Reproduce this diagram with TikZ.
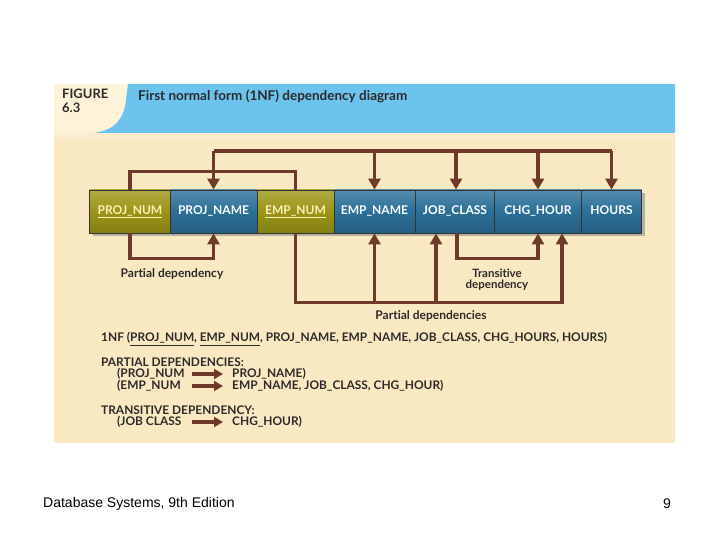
\documentclass[tikz,border=0pt]{standalone}
\usepackage{fontspec}
\setmainfont{Lato}[Ligatures=NoCommon]
\newfontfamily\footfont{Liberation Sans}
\usetikzlibrary{calc}
\usetikzlibrary{arrows.meta}
\usetikzlibrary{shadows}
\definecolor{panel}{HTML}{F9E9C3}
\definecolor{headblue}{HTML}{6CC3EE}
\definecolor{headcream}{HTML}{FCF3D8}
\definecolor{dep}{HTML}{6E3A29}
\definecolor{olive}{HTML}{9C9517}
\definecolor{attrblue}{HTML}{2B6F98}
\definecolor{keytext}{HTML}{F7F2B8}
\definecolor{inktext}{HTML}{2E2A2A}

\begin{document}
\begin{tikzpicture}[x=1pt,y=-1pt,
  attr/.style={rectangle,draw=black!80,line width=0.8pt,minimum height=43pt,inner sep=0pt,
    text height=9pt,text depth=3pt,
    font=\bfseries\fontsize{12}{12}\selectfont,text=white,
    drop shadow={shadow xshift=3pt,shadow yshift=-3pt,fill=black!45,opacity=0.6}},
  keyattr/.style={attr,top color=olive!80!white,bottom color=olive!85!black,middle color=olive,text=keytext},
  plainattr/.style={attr,top color=attrblue!80!white,bottom color=attrblue!85!black,middle color=attrblue},
  depline/.style={draw=dep,line width=3.8pt},
  deparrow/.style={depline,-{Triangle[width=12pt,length=11pt]}},
  caption/.style={font=\bfseries\fontsize{12}{12}\selectfont,text=inktext,align=center},
  listtext/.style={font=\bfseries\fontsize{11.9}{12}\selectfont,text=inktext,anchor=west,inner sep=0pt},
  smallarrow/.style={draw=dep,line width=3.5pt,-{Triangle[width=10pt,length=9pt]}}]
  \useasboundingbox (0,0) rectangle (720,540);
  % panel and header
  \fill[panel] (54,84) rectangle (675,443);
  \fill[headcream] (54,84) rectangle (130,133);
  \fill[headblue] (128,84) -- (675,84) -- (675,133) -- (94,133) .. controls (116,130) and (124,118) .. (126,100) -- cycle;
  \fill[panel!85!white] (54,133) rectangle (675,140);
  \node[font=\bfseries\fontsize{13}{14}\selectfont,text=inktext,align=left,anchor=north west,inner sep=0pt] (fig) at (62,89) {FIGURE\\6.3};
  \node[font=\bfseries\fontsize{13.5}{14}\selectfont,text=inktext,anchor=west,inner sep=0pt] (title) at (138,96) {First normal form (1NF) dependency diagram};
  % attribute boxes
  \node[keyattr,minimum width=81pt] (projnum) at (130,211.5) {\underline{PROJ\_NUM}};
  \node[plainattr,minimum width=87pt] (projname) at (213.5,211.5) {PROJ\_NAME};
  \node[keyattr,minimum width=77pt] (empnum) at (295.5,211.5) {\underline{EMP\_NUM}};
  \node[plainattr,minimum width=81pt] (empname) at (374.5,211.5) {EMP\_NAME};
  \node[plainattr,minimum width=80pt] (jobclass) at (455,211.5) {JOB\_CLASS};
  \node[plainattr,minimum width=87pt] (chghour) at (538,211.5) {CHG\_HOUR};
  \node[plainattr,minimum width=60pt] (hours) at (611.5,211.5) {HOURS};
  % key bracket and full dependency above
  \path[depline] (projnum.north) -- ++(0,-18) -| (empnum.north);
  \coordinate (topline) at (612,151);
  \path[deparrow] (projname.north |- topline) -- (projname.north);
  \path[depline] (projname.north |- topline) -- (hours.north |- topline);
  \path[deparrow] (empname.north |- topline) -- (empname.north);
  \path[deparrow] ($(jobclass.north |- topline)+(1,0)$) -- ($(jobclass.north)+(1,0)$);
  \path[deparrow] (chghour.north |- topline) -- (chghour.north);
  \path[deparrow] (hours.north |- topline) -- (hours.north);
  % dependencies below
  \path[deparrow] (projnum.south) -- ++(0,25) -| (projname.south);
  \node[caption] (partial) at (172,274) {Partial dependency};
  \path[deparrow] (empnum.south) -- ++(0,69) -| ($(chghour.south)+(24,0)$);
  \path[deparrow] ($(empnum.south)+(0,69)$) -| (empname.south);
  \path[deparrow] ($(empnum.south)+(0,69)$) -| ($(jobclass.south)+(-19,0)$);
  \node[caption] (partials) at (431,316) {Partial dependencies};
  \path[deparrow] ($(jobclass.south)+(2,0)$) -- ++(0,25) -| (chghour.south);
  \node[caption,font=\bfseries\fontsize{11.5}{12}\selectfont] (transitive) at (497,280) {Transitive\\[-1pt]dependency};
  % relational schema and dependencies
  \node[listtext] (onenf) at (101,339) {1NF (\underline{PROJ\_NUM}, \underline{EMP\_NUM}, PROJ\_NAME, EMP\_NAME, JOB\_CLASS, CHG\_HOURS, HOURS)};
  \node[listtext] (pdhead) at (101,362) {PARTIAL DEPENDENCIES:};
  \node[listtext] (pd1a) at (117,374) {(PROJ\_NUM};
  \node[listtext] (pd1b) at (232,374) {PROJ\_NAME)};
  \node[listtext] (pd2a) at (117,386) {(EMP\_NUM};
  \node[listtext] (pd2b) at (232,386) {EMP\_NAME, JOB\_CLASS, CHG\_HOUR)};
  \node[listtext] (tdhead) at (101,410) {TRANSITIVE DEPENDENCY:};
  \node[listtext] (tda) at (117,422) {(JOB CLASS};
  \node[listtext] (tdb) at (232,422) {CHG\_HOUR)};
  \path[smallarrow] ($(pd1b.west)+(-40,0)$) -- ($(pd1b.west)+(-9,0)$);
  \path[smallarrow] ($(pd2b.west)+(-40,0)$) -- ($(pd2b.west)+(-9,0)$);
  \path[smallarrow] ($(tdb.west)+(-40,0)$) -- ($(tdb.west)+(-9,0)$);
  % footer
  \node[font=\footfont\fontsize{14}{16}\selectfont,anchor=west,inner sep=0pt] (book) at (43,504) {Database Systems, 9th Edition};
  \node[font=\footfont\fontsize{14}{16}\selectfont,anchor=east,inner sep=0pt] (page) at (671,504) {9};
\end{tikzpicture}
\end{document}
